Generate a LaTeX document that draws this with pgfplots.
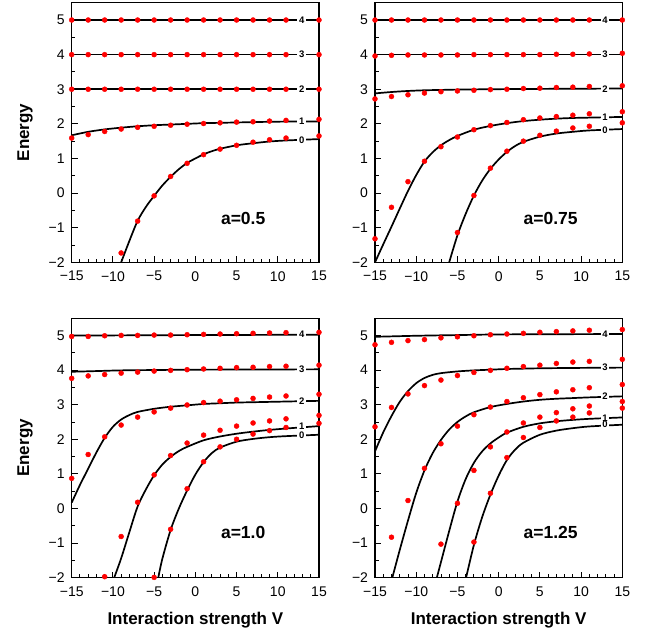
\documentclass[border=0pt]{standalone}
\usepackage{fontspec}
\setmainfont{Liberation Sans}
\usepackage{pgfplots}
\pgfplotsset{compat=1.18}

\pgfplotsset{
  panel/.style={
    scale only axis, width=247.3pt, height=259.6pt,
    xmin=-15, xmax=15, ymin=-2, ymax=5.5,
    xtick={-15,-10,...,15}, xticklabels={−15,−10,−5,0,5,10,15},
    ytick={-2,...,5}, yticklabels={−2,−1,0,1,2,3,4,5},
    minor x tick num=4, minor y tick num=1,
    xtick pos=bottom, ytick pos=left, tick align=inside,
    major tick length=6pt, minor tick length=3.5pt,
    every tick/.style={black, line width=0.9pt},
    axis line style={line width=1.2pt},
    tick label style={font=\fontsize{14}{16}\selectfont},
    xticklabel style={yshift=-5.5pt},
    yticklabel style={xshift=-3.5pt},
    label style={font=\bfseries\fontsize{17}{20}\selectfont},
    ylabel style={at={(axis description cs:-0.189,0.5)}, anchor=center},
    xlabel style={at={(axis description cs:0.5,-0.165)}, anchor=center},
    clip=false,
  },
  curve/.style={black, line width=1.7pt, smooth, no marks},
  dots/.style={only marks, mark=*, mark size=2.5pt, mark options={draw=red, fill=red}},
}
\tikzset{
  lvl/.style={fill=white, inner xsep=1.6pt, inner ysep=0.3pt, font=\bfseries\fontsize{9.5}{10}\selectfont},
  tag/.style={font=\bfseries\fontsize{17.5}{20}\selectfont},
}

\begin{document}
\begin{tikzpicture}
\path[use as bounding box] (0,0) rectangle (650pt,-635pt);

% a = 0.5
\begin{axis}[panel, at={(71.7pt,-262.3pt)}, anchor=south west, ylabel={Energy}]
  \addplot[curve] coordinates {(-15,5)(15,5)};
  \addplot[curve] coordinates {(-15,4)(15,4)};
  \addplot[curve] coordinates {(-15,3)(15,3)};
  \addplot[curve] coordinates {(-15,1.67)(-13,1.77)(-11,1.84)(-9,1.89)(-7,1.93)(-5,1.96)(-3,1.98)(-1,2.0)(1,2.02)(3,2.03)(5,2.04)(7,2.05)(9,2.06)(11,2.065)(15,2.07)};
  \addplot[curve] coordinates {(-9.0,-2)(-8,-1.38)(-7,-0.8)(-6,-0.4)(-5,-0.08)(-4,0.22)(-3,0.47)(-2,0.69)(-1,0.87)(0,1.0)(1,1.12)(2,1.21)(3,1.28)(5,1.38)(7,1.44)(9,1.49)(11,1.52)(15,1.56)};
  \addplot[dots] coordinates {(-15,5)(-13,5)(-11,5)(-9,5)(-7,5)(-5,5)(-3,5)(-1,5)(1,5)(3,5)(5,5)(7,5)(9,5)(11,5)(15,5)};
  \addplot[dots] coordinates {(-15,4)(-13,4)(-11,4)(-9,4)(-7,4)(-5,4)(-3,4)(-1,4)(1,4)(3,4)(5,4)(7,4)(9,4)(11,4)(15,4)};
  \addplot[dots] coordinates {(-15,3)(-13,3)(-11,3)(-9,3)(-7,3)(-5,3)(-3,3)(-1,3)(1,3)(3,3)(5,3)(7,3)(9,3)(11,3)(15,3)};
  \addplot[dots] coordinates {(-15,1.59)(-13,1.69)(-11,1.78)(-9,1.85)(-7,1.90)(-5,1.93)(-3,1.96)(-1,1.99)(1,2.01)(3,2.03)(5,2.05)(7,2.06)(9,2.08)(11,2.10)(15,2.13)};
  \addplot[dots] coordinates {(-9,-1.73)(-7,-0.81)(-5,-0.08)(-3,0.48)(-1,0.86)(1,1.11)(3,1.27)(5,1.38)(7,1.47)(9,1.54)(11,1.59)(15,1.65)};
  \node[lvl] at (axis cs:12.9,5) {4};
  \node[lvl] at (axis cs:12.9,4) {3};
  \node[lvl] at (axis cs:12.9,3) {2};
  \node[lvl] at (axis cs:12.9,2.065) {1};
  \node[lvl] at (axis cs:12.9,1.54) {0};
  \node[tag] at (axis cs:5.8,-0.72) {a=0.5};
\end{axis}

% a = 0.75
\begin{axis}[panel, at={(375pt,-262.3pt)}, anchor=south west]
  \addplot[curve] coordinates {(-15,5)(15,5)};
  \addplot[curve] coordinates {(-15,4)(15,4)};
  \addplot[curve] coordinates {(-15,2.88)(-13,2.92)(-11,2.95)(-9,2.97)(-7,2.98)(-5,2.99)(-1,3.0)(5,3.01)(15,3.02)};
  \addplot[curve] coordinates {(-15,-2)(-14,-1.48)(-13,-0.97)(-12,-0.45)(-11,0.06)(-10,0.52)(-9,0.91)(-8,1.18)(-7,1.38)(-6,1.53)(-5,1.65)(-3,1.83)(-1,1.94)(1,2.02)(3,2.08)(5,2.12)(7,2.15)(9,2.17)(11,2.18)(15,2.20)};
  \addplot[curve] coordinates {(-6,-2)(-5,-1.22)(-4,-0.6)(-3,-0.07)(-2,0.36)(-1,0.70)(0,0.97)(1,1.19)(2,1.36)(3,1.48)(5,1.63)(7,1.72)(9,1.77)(11,1.81)(15,1.85)};
  \addplot[dots] coordinates {(-15,5)(-13,5)(-11,5)(-9,5)(-7,5)(-5,5)(-3,5)(-1,5)(1,5)(3,5)(5,5)(7,5)(9,5)(11,5)(15,5)};
  \addplot[dots] coordinates {(-15,3.96)(-13,3.98)(-11,3.99)(-9,3.99)(-7,3.99)(-5,3.99)(-3,4.0)(-1,4.0)(1,4.0)(3,4.0)(5,4.0)(7,4.01)(9,4.01)(11,4.02)(15,4.04)};
  \addplot[dots] coordinates {(-15,2.72)(-13,2.79)(-11,2.84)(-9,2.89)(-7,2.93)(-5,2.95)(-3,2.97)(-1,2.99)(1,3.0)(3,3.02)(5,3.03)(7,3.05)(9,3.06)(11,3.08)(15,3.10)};
  \addplot[dots] coordinates {(-15,-1.32)(-13,-0.41)(-11,0.33)(-9,0.92)(-7,1.34)(-5,1.62)(-3,1.83)(-1,1.95)(1,2.04)(3,2.12)(5,2.17)(7,2.21)(9,2.25)(11,2.29)(15,2.35)};
  \addplot[dots] coordinates {(-5,-1.14)(-3,-0.07)(-1,0.72)(1,1.21)(3,1.50)(5,1.67)(7,1.79)(9,1.88)(11,1.93)(15,2.03)};
  \node[lvl] at (axis cs:12.9,5) {4};
  \node[lvl] at (axis cs:12.9,4) {3};
  \node[lvl] at (axis cs:12.9,3.01) {2};
  \node[lvl] at (axis cs:12.9,2.18) {1};
  \node[lvl] at (axis cs:12.9,1.83) {0};
  \node[tag] at (axis cs:6.3,-0.72) {a=0.75};
\end{axis}

% a = 1.0
\begin{axis}[panel, at={(71.7pt,-577.7pt)}, anchor=south west, ylabel={Energy}, xlabel={Interaction strength V}]
  \addplot[curve] coordinates {(-15,4.995)(0,5.01)(15,5.02)};
  \addplot[curve] coordinates {(-15,3.95)(-12,3.97)(-9,3.99)(-5,4.0)(0,4.01)(15,4.02)};
  \addplot[curve] coordinates {(-15,0.17)(-14,0.68)(-13,1.15)(-12,1.62)(-11,2.04)(-10,2.36)(-9,2.57)(-8,2.70)(-7,2.79)(-5,2.88)(-3,2.94)(-1,2.98)(1,3.02)(3,3.04)(5,3.06)(7,3.07)(9,3.08)(11,3.09)(15,3.11)};
  \addplot[curve] coordinates {(-9.85,-2)(-9,-1.44)(-8,-0.68)(-7,0.06)(-6,0.55)(-5,0.96)(-4,1.27)(-3,1.49)(-2,1.66)(-1,1.78)(1,1.97)(3,2.08)(5,2.16)(7,2.22)(9,2.27)(11,2.31)(15,2.38)};
  \addplot[curve] coordinates {(-4.5,-2)(-4,-1.45)(-3,-0.62)(-2,0.0)(-1,0.52)(0,0.98)(1,1.34)(2,1.60)(3,1.76)(5,1.93)(7,2.01)(9,2.06)(11,2.09)(15,2.13)};
  \addplot[dots] coordinates {(-15,4.97)(-13,4.97)(-11,4.99)(-9,5.0)(-7,5.0)(-5,5.01)(-3,5.01)(-1,5.02)(1,5.03)(3,5.04)(5,5.05)(7,5.06)(9,5.07)(11,5.08)(15,5.09)};
  \addplot[dots] coordinates {(-15,3.76)(-13,3.83)(-11,3.87)(-9,3.91)(-7,3.94)(-5,3.97)(-3,3.99)(-1,4.01)(1,4.03)(3,4.05)(5,4.07)(7,4.08)(9,4.10)(11,4.11)(15,4.14)};
  \addplot[dots] coordinates {(-15,0.87)(-13,1.56)(-11,2.07)(-9,2.41)(-7,2.64)(-5,2.79)(-3,2.90)(-1,2.99)(1,3.06)(3,3.10)(5,3.14)(7,3.18)(9,3.22)(11,3.25)(15,3.30)};
  \addplot[dots] coordinates {(-11,-1.97)(-9,-0.81)(-7,0.18)(-5,0.97)(-3,1.53)(-1,1.89)(1,2.12)(3,2.26)(5,2.38)(7,2.47)(9,2.53)(11,2.59)(15,2.69)};
  \addplot[dots] coordinates {(-5,-1.99)(-3,-0.60)(-1,0.57)(1,1.35)(3,1.78)(5,2.00)(7,2.15)(9,2.25)(11,2.34)(15,2.46)};
  \node[lvl] at (axis cs:12.9,5.02) {4};
  \node[lvl] at (axis cs:12.9,4.02) {3};
  \node[lvl] at (axis cs:12.9,3.10) {2};
  \node[lvl] at (axis cs:12.9,2.38) {1};
  \node[lvl] at (axis cs:12.9,2.11) {0};
  \node[tag] at (axis cs:5.8,-0.7) {a=1.0};
\end{axis}

% a = 1.25
\begin{axis}[panel, at={(375pt,-577.7pt)}, anchor=south west, xlabel={Interaction strength V}]
  \addplot[curve] coordinates {(-15,4.96)(-10,4.99)(-5,5.01)(1,5.03)(15,5.04)};
  \addplot[curve] coordinates {(-15,1.65)(-14,2.2)(-13,2.67)(-12,3.08)(-11,3.39)(-10,3.62)(-9,3.77)(-8,3.86)(-7,3.91)(-5,3.96)(-3,3.99)(-1,4.01)(1,4.03)(3,4.04)(5,4.05)(9,4.06)(15,4.07)};
  \addplot[curve] coordinates {(-12.9,-2)(-12,-1.2)(-11,-0.35)(-10,0.45)(-9,1.1)(-8,1.6)(-7,1.98)(-6,2.28)(-5,2.50)(-4,2.66)(-3,2.78)(-1,2.93)(1,3.02)(3,3.09)(5,3.14)(7,3.17)(9,3.19)(11,3.21)(15,3.24)};
  \addplot[curve] coordinates {(-7.5,-2)(-7,-1.55)(-6,-0.65)(-5,0.2)(-4,0.85)(-3,1.32)(-2,1.65)(-1,1.88)(0,2.05)(1,2.19)(3,2.36)(5,2.46)(7,2.52)(9,2.56)(11,2.59)(15,2.63)};
  \addplot[curve] coordinates {(-3.95,-2)(-3,-1.05)(-2,-0.25)(-1,0.40)(0,0.95)(1,1.40)(2,1.70)(3,1.90)(5,2.13)(7,2.25)(9,2.32)(11,2.37)(15,2.42)};
  \addplot[dots] coordinates {(-15,4.73)(-13,4.80)(-11,4.85)(-9,4.88)(-7,4.93)(-5,4.96)(-3,4.99)(-1,5.02)(1,5.04)(3,5.06)(5,5.09)(7,5.11)(9,5.13)(11,5.15)(15,5.17)};
  \addplot[dots] coordinates {(-15,2.36)(-13,2.92)(-11,3.31)(-9,3.55)(-7,3.71)(-5,3.84)(-3,3.93)(-1,3.99)(1,4.05)(3,4.10)(5,4.14)(7,4.19)(9,4.23)(11,4.25)(15,4.31)};
  \addplot[dots] coordinates {(-13,-0.83)(-11,0.23)(-9,1.16)(-7,1.87)(-5,2.38)(-3,2.71)(-1,2.93)(1,3.09)(3,3.20)(5,3.29)(7,3.37)(9,3.43)(11,3.49)(15,3.58)};
  \addplot[dots] coordinates {(-7,-1.03)(-5,0.15)(-3,1.10)(-1,1.78)(1,2.21)(3,2.47)(5,2.64)(7,2.77)(9,2.88)(11,2.96)(15,3.09)};
  \addplot[dots] coordinates {(-3,-0.97)(-1,0.44)(1,1.47)(3,2.05)(5,2.34)(7,2.53)(9,2.64)(11,2.76)(15,2.90)};
  \node[lvl] at (axis cs:12.9,5.04) {4};
  \node[lvl] at (axis cs:12.9,4.07) {3};
  \node[lvl] at (axis cs:12.9,3.23) {2};
  \node[lvl] at (axis cs:12.9,2.62) {1};
  \node[lvl] at (axis cs:12.9,2.42) {0};
  \node[tag] at (axis cs:6.3,-0.68) {a=1.25};
\end{axis}
\end{tikzpicture}
\end{document}
